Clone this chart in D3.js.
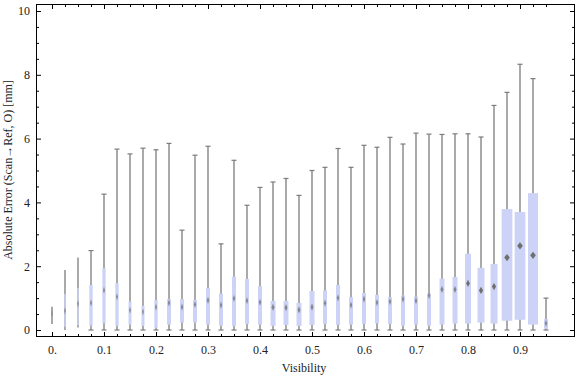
<!DOCTYPE html>
<html><head><meta charset="utf-8">
<script src="https://cdn.jsdelivr.net/npm/d3@7/dist/d3.min.js"></script>
<style>
body{margin:0;background:#fff;}
svg{display:block;font-family:"Liberation Serif","DejaVu Serif",serif;}
</style></head>
<body><svg id="c" width="576" height="377"></svg>
<script>
// ---- data ----
const visibility = [0.000,0.025,0.050,0.075,0.100,0.125,0.150,0.175,0.200,0.225,0.250,0.275,0.300,0.325,0.350,0.375,0.400,0.425,0.450,0.475,0.500,0.525,0.550,0.575,0.600,0.625,0.650,0.675,0.700,0.725,0.750,0.775,0.800,0.825,0.850,0.875,0.900,0.925,0.950];
const whiskerLow = [0.19,0.00,0.08,0,0,0,0,0,0,0,0,0,0,0,0,0,0,0,0,0,0,0,0,0,0,0,0,0,0,0,0,0,0,0,0,0,0,0,0];
const q1 =        [0.47,0.10,0.15,0.14,0.21,0.13,0.17,0.13,0.07,0.17,0.23,0.23,0.17,0.13,0.13,0.19,0.17,0.13,0.16,0.13,0.16,0.19,0.16,0.17,0.19,0.21,0.19,0.13,0.17,0.13,0.17,0.20,0.20,0.23,0.20,0.29,0.32,0.17,0.04];
const median =    [0.52,0.60,0.82,0.85,1.25,1.04,0.62,0.57,0.72,0.85,0.72,0.80,0.93,0.78,0.99,0.92,0.87,0.71,0.70,0.63,0.72,0.84,1.01,0.78,0.97,0.86,0.89,0.97,0.92,1.08,1.27,1.27,1.46,1.24,1.36,2.27,2.64,2.34,0.21];
const q3 =        [0.57,1.13,1.32,1.41,1.93,1.47,0.89,0.76,0.94,0.97,0.97,0.94,1.32,1.14,1.67,1.60,1.38,0.91,0.91,0.85,1.22,1.24,1.41,1.03,1.16,1.10,1.03,1.08,1.04,1.15,1.61,1.66,2.39,1.95,2.07,3.79,3.70,4.29,0.34];
const whiskerHigh=[0.73,1.88,2.27,2.49,4.26,5.67,5.52,5.70,5.65,5.85,3.13,5.48,5.76,2.70,5.32,3.91,4.47,4.64,4.75,4.22,5.00,5.10,5.69,5.10,5.79,5.73,6.04,5.83,6.17,6.14,6.13,6.15,6.15,6.05,7.04,7.45,8.33,7.88,1.00];
const binWeight = [1,1.5,1.5,3.3,3.3,3.3,3,3,3.3,4,4,4,4,4,4,4,4,5,5,5,5,4,4,4,4,4,4,4,4,4,5,5,6,7,7,10.7,10.7,10,4];
const xMajorTicks = [0,0.1,0.2,0.3,0.4,0.5,0.6,0.7,0.8,0.9];
const yMajorTicks = [0,2,4,6,8,10];
const xTitle = "Visibility";
const yTitle = "Absolute Error (Scan\u2192Ref, O) [mm]";

// ---- layout ----
const W = 576, H = 377;
const L = 36, R = 575, T = 4, B = 337;
const svg = d3.select("#c");
const x = d3.scaleLinear().domain([0, 0.9]).range([52, 520]);
const y = d3.scaleLinear().domain([0, 10]).range([330, 11]);
const wScale = d3.scaleLinear().domain([0, 10.7]).range([0, 10.7]);

const xMinor = d3.range(0, 39).map(i => +(i*0.025).toFixed(3)).filter(v => xMajorTicks.every(m => Math.abs(m - v) > 1e-6));
const yMinor = d3.range(0, 21).map(i => i*0.5).filter(v => v % 2 !== 0);

const data = visibility.map((v,i)=>({v, lo:whiskerLow[i], q1:q1[i], med:median[i], q3:q3[i], hi:whiskerHigh[i], w:wScale(binWeight[i])}));

// frame
svg.append("rect").attr("x", L+0.5).attr("y", T+0.5).attr("width", R-L-1).attr("height", B-T-1)
  .attr("fill","none").attr("stroke","#000").attr("stroke-width",1);

function styleAxis(g){ g.select(".domain").remove(); g.selectAll("line").attr("stroke","#000"); g.selectAll("text").attr("fill","#222").style("font-family","Liberation Serif").style("font-size","12px"); }

// bottom axis
svg.append("g").attr("transform",`translate(0,${B})`)
  .call(d3.axisBottom(x).tickValues(xMajorTicks).tickSizeInner(-5).tickSizeOuter(0).tickPadding(8).tickFormat(d => d===0 ? "0." : d3.format(".1f")(d)))
  .call(styleAxis);
svg.append("g").attr("transform",`translate(0,${B})`)
  .call(d3.axisBottom(x).tickValues(xMinor).tickSizeInner(-3).tickSizeOuter(0).tickFormat(""))
  .call(styleAxis);
// top axis
svg.append("g").attr("transform",`translate(0,${T})`)
  .call(d3.axisTop(x).tickValues(xMajorTicks).tickSizeInner(-5).tickSizeOuter(0).tickFormat(""))
  .call(styleAxis);
svg.append("g").attr("transform",`translate(0,${T})`)
  .call(d3.axisTop(x).tickValues(xMinor).tickSizeInner(-3).tickSizeOuter(0).tickFormat(""))
  .call(styleAxis);
// left axis
svg.append("g").attr("transform",`translate(${L},0)`)
  .call(d3.axisLeft(y).tickValues(yMajorTicks).tickSizeInner(-5).tickSizeOuter(0).tickPadding(6).tickFormat(d3.format("d")))
  .call(styleAxis);
svg.append("g").attr("transform",`translate(${L},0)`)
  .call(d3.axisLeft(y).tickValues(yMinor).tickSizeInner(-3).tickSizeOuter(0).tickFormat(""))
  .call(styleAxis);
// right axis
svg.append("g").attr("transform",`translate(${R},0)`)
  .call(d3.axisRight(y).tickValues(yMajorTicks).tickSizeInner(-5).tickSizeOuter(0).tickFormat(""))
  .call(styleAxis);
svg.append("g").attr("transform",`translate(${R},0)`)
  .call(d3.axisRight(y).tickValues(yMinor).tickSizeInner(-3).tickSizeOuter(0).tickFormat(""))
  .call(styleAxis);

// boxes
const g = svg.append("g");
const whiskerColor = "#7c7c7c";
g.selectAll("line.wh").data(data).join("line").attr("class","wh")
  .attr("x1", d=>x(d.v)).attr("x2", d=>x(d.v))
  .attr("y1", d=>y(d.lo)).attr("y2", d=>y(d.hi))
  .attr("stroke", whiskerColor).attr("stroke-width",1.3);
const capped = data.filter(d => d.w >= 3);
g.selectAll("line.capT").data(capped).join("line").attr("class","capT")
  .attr("x1", d=>x(d.v)-2.5).attr("x2", d=>x(d.v)+2.5)
  .attr("y1", d=>y(d.hi)).attr("y2", d=>y(d.hi))
  .attr("stroke", whiskerColor).attr("stroke-width",1.2);
g.selectAll("line.capB").data(capped).join("line").attr("class","capB")
  .attr("x1", d=>x(d.v)-2.5).attr("x2", d=>x(d.v)+2.5)
  .attr("y1", d=>y(d.lo)).attr("y2", d=>y(d.lo))
  .attr("stroke", whiskerColor).attr("stroke-width",1.2);
g.selectAll("rect.box").data(data).join("rect").attr("class","box")
  .attr("x", d=>x(d.v)-d.w/2).attr("width", d=>d.w)
  .attr("y", d=>y(d.q3)).attr("height", d=>y(d.q1)-y(d.q3))
  .attr("fill","#cdd3f6");
g.selectAll("path.med").data(data).join("path").attr("class","med")
  .attr("d", d=>{
    const cx = x(d.v), cy = y(d.med);
    const hw = Math.min(2.8, Math.max(0.8, d.w*0.3)), hh = 3.6;
    return `M${cx},${cy-hh}L${cx+hw},${cy}L${cx},${cy+hh}L${cx-hw},${cy}Z`;
  })
  .attr("fill","#6f6f6f").attr("opacity", d => d.w >= 6 ? 1 : 0.75);

// titles
svg.append("text").attr("x", 304).attr("y", 372).attr("text-anchor","middle")
  .attr("fill","#222").style("font-size","12px").text(xTitle);
svg.append("text").attr("transform","translate(11.5,170) rotate(-90)").attr("text-anchor","middle")
  .attr("fill","#222").style("font-size","12px").text(yTitle);
</script></body></html>
